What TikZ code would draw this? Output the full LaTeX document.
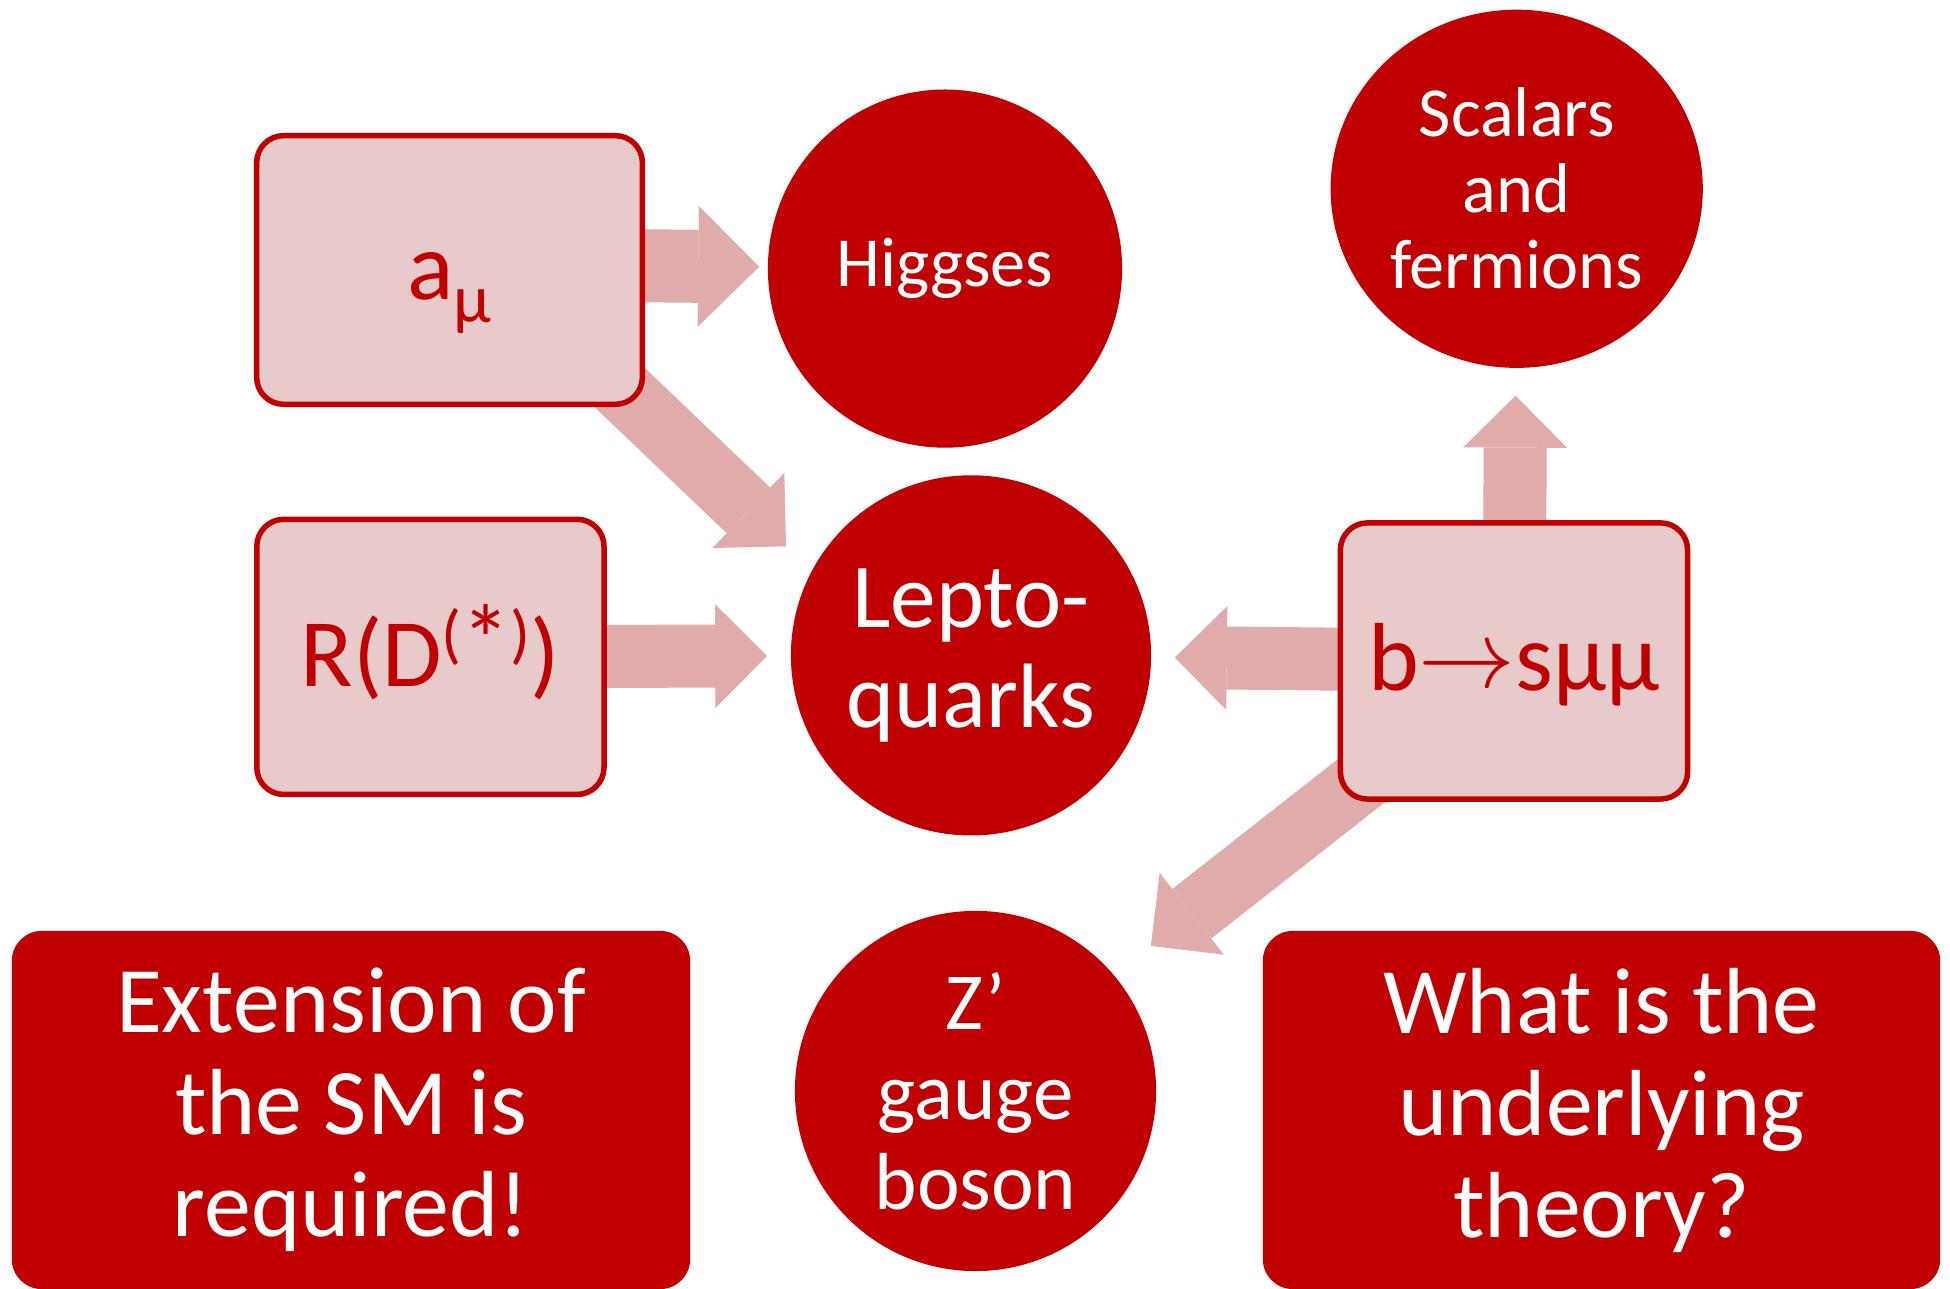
\documentclass[tikz,border=0pt]{standalone}
\usepackage{graphicx}
\usepackage{fontspec}
\setmainfont{Carlito}
\usepackage{tikz}
\usetikzlibrary{arrows.meta,shapes.geometric,calc,backgrounds}
\definecolor{darkred}{HTML}{C00000}
\definecolor{boxpink}{HTML}{E8CACB}
\definecolor{arrowpink}{HTML}{DFABAB}
\tikzset{
  obsbox/.style={draw=darkred,line width=0.55mm,fill=boxpink,rounded corners=2.7mm,text=darkred,font=\fontsize{27.5}{30}\selectfont,inner sep=0pt,text height=20pt,text depth=3pt},
  modelball/.style={ellipse,fill=darkred,text=white,align=center,inner sep=-5mm},
  notebox/.style={fill=darkred,rounded corners=3mm,text=white,align=center,font=\fontsize{26.7}{29}\selectfont,inner sep=0pt},
  bigarrow/.style={draw=arrowpink,line width=6.3mm,-{Triangle[length=5.2mm,width=10.4mm,line width=0pt]}},
}

\begin{document}
\begin{tikzpicture}[x=0.01cm,y=-0.01cm]
        \useasboundingbox (0,0) rectangle (1950,1289);
        % observables
        \node[obsbox,minimum width=3.855cm,minimum height=2.685cm] (amu) at (449.5,270) {a\raisebox{-6.5pt}{\fontsize{19.5}{20}\selectfont μ}};
        \node[obsbox,minimum width=3.47cm,minimum height=2.75cm] (rd) at (430.4,656.9) {R(D\raisebox{8.5pt}{\fontsize{18.7}{20}\selectfont(\raisebox{-5pt}{\scalebox{1.5}{*}})})};
        \node[obsbox,minimum width=3.47cm,minimum height=2.76cm] (bsmm) at (1514,661) {b\raisebox{0.9pt}{\scalebox{2.75}{\fontsize{10}{12}\selectfont$\rightarrow$}}sμμ};
        % models
        \node[modelball,minimum width=3.54cm,minimum height=3.58cm,font=\fontsize{20}{22}\selectfont] (higgs) at (945,268.6) {Higgses};
        \node[modelball,minimum width=3.72cm,minimum height=3.58cm,font=\fontsize{20}{21.6}\selectfont] (scal) at (1516.7,188.8) {Scalars\\and\\fermions};
        \node[modelball,minimum width=3.6cm,minimum height=3.6cm,font=\fontsize{26}{28.3}\selectfont] (lq) at (971,655.4) {Lepto-\\quarks};
        \node[modelball,minimum width=3.61cm,minimum height=3.6cm,font=\fontsize{23}{25.6}\selectfont] (zb) at (975.5,1091) {Z’\\gauge\\boson};
        % conclusions
        \node[notebox,minimum width=6.78cm,minimum height=3.58cm] (ext) at (351,1110) {Extension of\\the SM is\\required!};
        \node[notebox,minimum width=6.77cm,minimum height=3.58cm] (why) at (1601.5,1110) {What is the\\underlying\\theory?};
        % block arrows behind the boxes
        \begin{scope}[on background layer]
          \draw[bigarrow,line width=7.3mm,-{Triangle[length=6.1mm,width=12.1mm,line width=0pt]},shorten >=0.8mm] ([yshift=0.6mm]amu.center) -- (higgs);
          \draw[bigarrow,shorten >=3.5mm] ([yshift=4.5mm]amu.center) -- (lq.152);
          \draw[bigarrow,shorten >=2.3mm] (rd.center) -- (lq);
          \draw[bigarrow,shorten >=2.3mm] (bsmm.center) -- (lq);
          \draw[bigarrow,shorten >=2.7mm] (bsmm.center) -- (scal);
          \draw[bigarrow,shorten >=4.65mm] (bsmm.center) -- (zb.40);
        \end{scope}
      \end{tikzpicture}
\end{document}
